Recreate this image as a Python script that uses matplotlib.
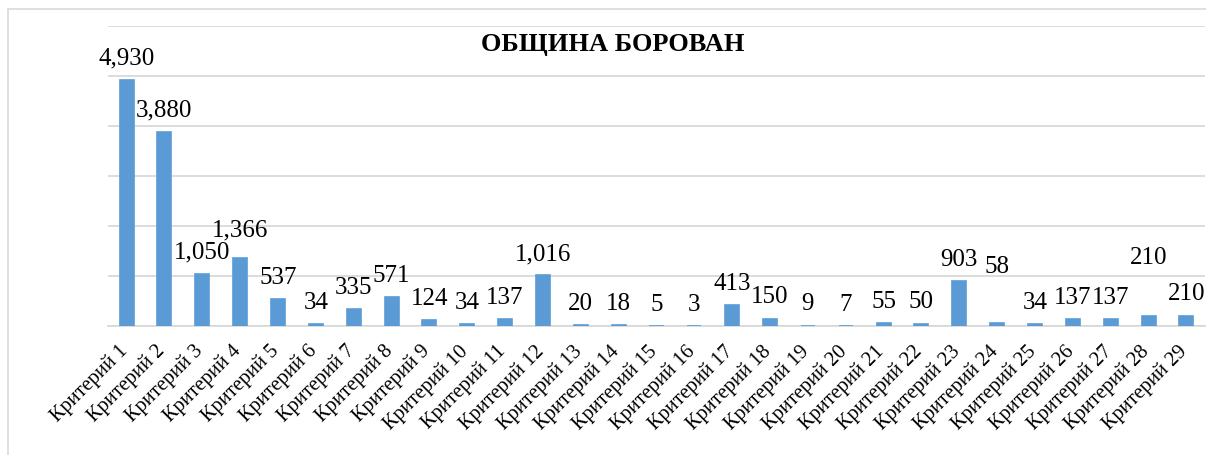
import matplotlib
matplotlib.use("Agg")
import matplotlib.pyplot as plt
from matplotlib.patches import Rectangle
from matplotlib.transforms import ScaledTranslation

categories = [f"Критерий {i}" for i in range(1, 30)]
values = [4930, 3880, 1050, 1366, 537, 34, 335, 571, 124, 34, 137, 1016, 20, 18,
          5, 3, 413, 150, 9, 7, 55, 50, 903, 58, 34, 137, 137, 210, 210]
title = "ОБЩИНА БОРОВАН"
y_ticks = [0, 1000, 2000, 3000, 4000, 5000, 6000]

# extra upward shift (points) of a few manually moved labels in the original
label_extra = {3: 4.5, 23: 25, 27: 26}

W, H = 1206, 456
fig = plt.figure(figsize=(W / 100, H / 100), dpi=100)
plt.rcParams['font.family'] = ['Liberation Serif', 'DejaVu Serif']

# chart border
fig.patches.append(Rectangle((8 / W, -0.1), 1.2, 1 - 10 / H + 0.1,
                             transform=fig.transFigure, fill=False,
                             edgecolor='#d9d9d9', linewidth=1.2))

left, right, top, bottom = 107.6, 1205.4, 27, 327
ax = fig.add_axes([left / W, 1 - bottom / H, (right - left) / W, (bottom - top) / H])

x = list(range(len(categories)))
ax.bar(x, values, width=0.37, color='#5B9BD5', edgecolor='#5B9BD5',
       linewidth=1.2, zorder=3)
ax.set_xlim(-0.5, len(categories) - 0.5)
ax.set_ylim(0, 6000)
ax.set_yticks(y_ticks)
ax.yaxis.grid(True, color='#d9d9d9', linewidth=1.3, zorder=0)
ax.tick_params(axis='y', left=False, labelleft=False)
ax.tick_params(axis='x', bottom=False, pad=7)
for s in ['left', 'right', 'top']:
    ax.spines[s].set_visible(False)
ax.spines['bottom'].set_color('#d9d9d9')
ax.spines['bottom'].set_linewidth(1.3)
ax.set_xticks(x)
ax.set_xticklabels(categories, rotation=45, ha='right', fontsize=14.8)
shift = ScaledTranslation(5 / 100, 0, fig.dpi_scale_trans)
for lab in ax.get_xticklabels():
    lab.set_transform(lab.get_transform() + shift)

for i, v in enumerate(values):
    ax.annotate(f"{v:,}", (i, v), xytext=(0, 8 + label_extra.get(i, 0)),
                textcoords='offset points', ha='center', va='bottom', fontsize=18,
                zorder=4)

fig.text(613 / W, 1 - 45 / H, title, ha='center', va='center', fontsize=19,
         fontweight='bold')

fig.savefig('out.png', dpi=100)
